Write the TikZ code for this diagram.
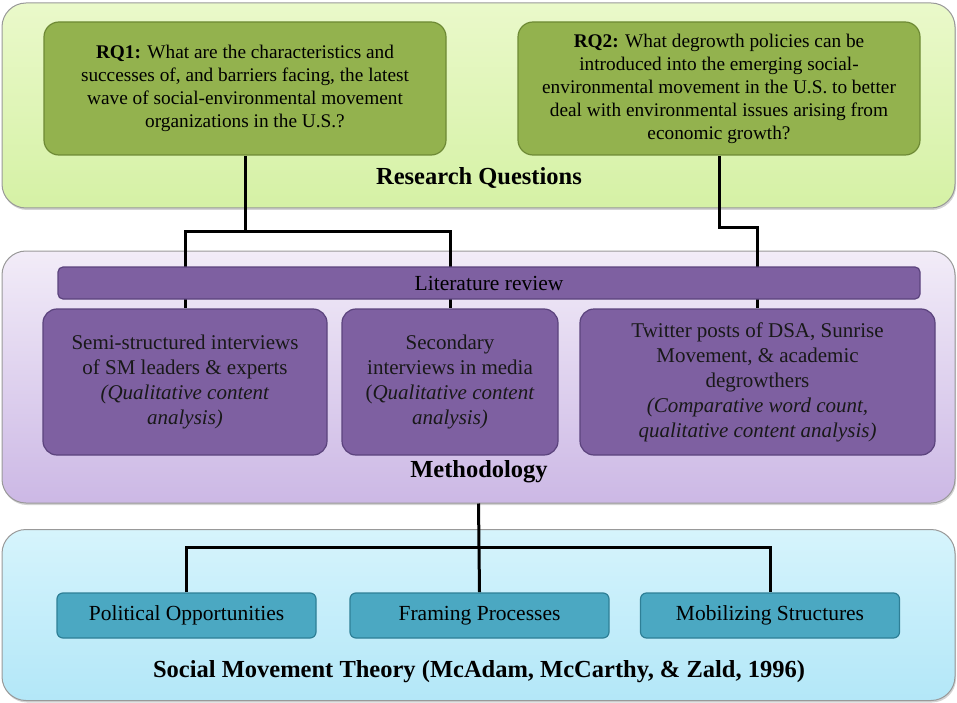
\documentclass[tikz,border=0pt]{standalone}
\usepackage{fontspec}
\setmainfont{Liberation Serif}
\usetikzlibrary{positioning,shadows}
\definecolor{rqpaneltop}{HTML}{EAF9CA}
\definecolor{rqpanelbot}{HTML}{D5F1A5}
\definecolor{rqfill}{HTML}{93B24E}
\definecolor{rqline}{HTML}{6E8A35}
\definecolor{mpaneltop}{HTML}{F2ECF8}
\definecolor{mpanelbot}{HTML}{CCB8E5}
\definecolor{mfill}{HTML}{7E60A1}
\definecolor{mline}{HTML}{5B437D}
\definecolor{tpaneltop}{HTML}{D6F4FC}
\definecolor{tpanelbot}{HTML}{B3E7F8}
\definecolor{tfill}{HTML}{4BA8C2}
\definecolor{tline}{HTML}{2E7F96}
\pgfdeclarelayer{back}
\pgfdeclarelayer{wires}
\pgfsetlayers{back,wires,main}
\begin{document}
\begin{tikzpicture}[x=1pt, y=-1pt,
        panel/.style={draw=gray!80, line width=1pt, rounded corners=24pt,
          drop shadow={shadow xshift=1pt, shadow yshift=-2pt, opacity=.35}},
        rqbox/.style={draw=rqline, line width=1.2pt, fill=rqfill,
          rounded corners=15pt, align=center, inner sep=0pt,
          minimum width=402pt, minimum height=133pt,
          font=\fontsize{19.3}{23}\selectfont},
        mbox/.style={draw=mline, line width=1.2pt, fill=mfill,
          rounded corners=14pt, align=center, inner sep=0pt,
          minimum height=146pt, text=black!90,
          font=\fontsize{21}{25}\selectfont},
        tbox/.style={draw=tline, line width=1.2pt, fill=tfill,
          rounded corners=6pt, align=center, inner sep=0pt,
          minimum width=259pt, minimum height=45pt,
          font=\fontsize{21.5}{24}\selectfont},
        title/.style={font=\fontsize{24.5}{28}\selectfont\bfseries},
        wire/.style={line width=3pt, black}
        ]
        \useasboundingbox (0,0) rectangle (957,703);
        % panels
        \begin{pgfonlayer}{back}
        \node[panel, top color=rqpaneltop, bottom color=rqpanelbot,
          minimum width=953pt, minimum height=205pt] (rqpanel) at (478.5,105.5) {};
        \node[panel, top color=mpaneltop, bottom color=mpanelbot,
          minimum width=953pt, minimum height=252pt] (mpanel) at (478.5,377) {};
        \node[panel, top color=tpaneltop, bottom color=tpanelbot,
          minimum width=953pt, minimum height=171pt] (tpanel) at (478.5,615) {};
        \end{pgfonlayer}
        % research questions
        \node[rqbox] (rq1) at (245,88.5) {\textbf{RQ1:} What are the characteristics and\\
          successes of, and barriers facing, the latest\\
          wave of social-environmental movement\\
          organizations in the U.S.?};
        \node[rqbox] (rq2) at (719,88.5) {\textbf{RQ2:} What degrowth policies can be\\
          introduced into the emerging social-\\
          environmental movement in the U.S. to better\\
          deal with environmental issues arising from\\
          economic growth?};
        \node[title] (rqtitle) at (479,178) {Research Questions};
        % methodology
        \node[draw=mline, line width=1.2pt, fill=mfill, rounded corners=5pt,
          minimum width=862pt, minimum height=32pt, inner sep=0pt,
          font=\fontsize{21.5}{24}\selectfont] (lit) at (489,283) {Literature review};
        \node[mbox, minimum width=284pt] (sm1) at (185,382) {Semi-structured interviews\\
          of SM leaders \& experts\\
          \textit{(Qualitative content}\\
          \textit{analysis)}};
        \node[mbox, minimum width=216pt] (sm2) at (450,382) {Secondary\\
          interviews in media\\
          (\textit{Qualitative content}\\
          \textit{analysis)}};
        \node[mbox, minimum width=355pt] (tw) at (757.5,382) {Twitter posts of DSA, Sunrise\\
          Movement, \& academic\\
          degrowthers\\
          \textit{(Comparative word count,}\\
          \textit{qualitative content analysis)}};
        \node[title] (mtitle) at (479,472) {Methodology};
        % theory
        \node[tbox] (po) at (186.5,615.5) {Political Opportunities};
        \node[tbox] (fp) at (479.5,615.5) {Framing Processes};
        \node[tbox] (ms) at (770,615.5) {Mobilizing Structures};
        \node[title] (ttitle) at (479,672) {Social Movement Theory (McAdam, McCarthy, \& Zald, 1996)};
        % connectors
        \begin{pgfonlayer}{wires}
        \draw[wire] (rq1.south) -- ++(0,77);
        \draw[wire] (sm1.north) -- ++(0,-77) -| (sm2.north);
        \draw[wire] (rq2.south) -- ++(0,72) -| (tw.north);
        \draw[wire] (mpanel.south) -- (fp.north);
        \draw[wire] (po.north) -- ++(0,-45) -| (ms.north);
        \end{pgfonlayer}
    \end{tikzpicture}
\end{document}
